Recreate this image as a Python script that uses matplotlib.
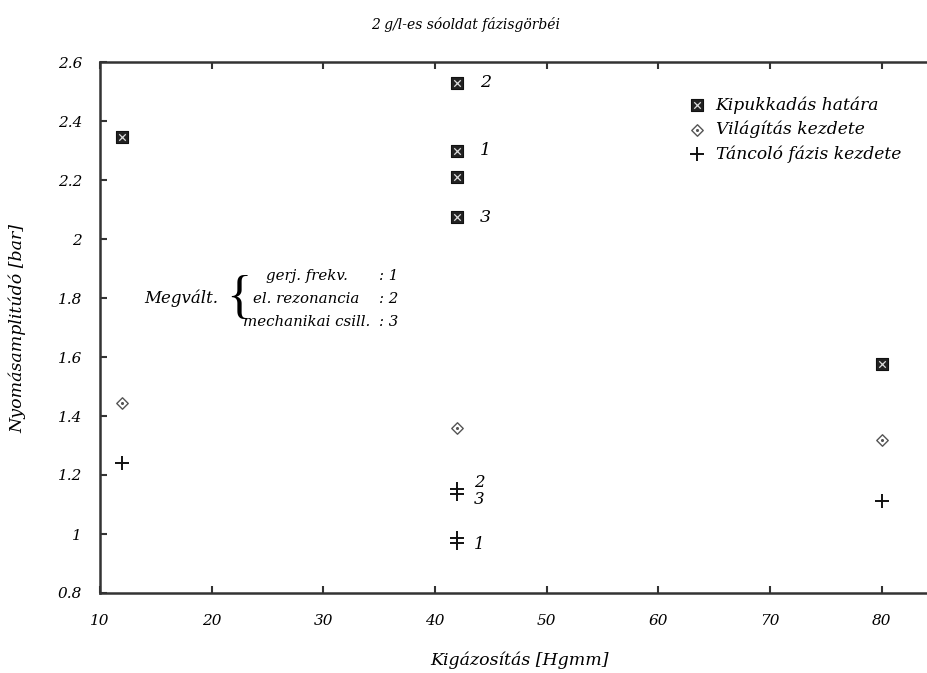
import numpy as np
import matplotlib.pyplot as plt
from matplotlib.legend_handler import HandlerTuple

plt.rcParams['font.family'] = ['DejaVu Serif']
plt.rcParams['font.style'] = 'italic'

# Kipukkadás határa
burst_x = [12, 42, 42, 42, 42, 80]
burst_y = [2.347, 2.53, 2.30, 2.211, 2.073, 1.576]
# Világítás kezdete
light_x = [12, 42, 80]
light_y = [1.443, 1.358, 1.319]
# Táncoló fázis kezdete
dance_x = [12, 42, 42, 42, 42, 80]
dance_y = [1.24, 1.152, 1.135, 0.985, 0.968, 1.112]

burst_tags = ['2', '1', '3']
burst_tag_y = [2.53, 2.30, 2.073]
dance_tags = ['2', '3', '1']
dance_tag_y = [1.175, 1.118, 0.963]

legend_labels = ['Kipukkadás határa', 'Világítás kezdete', 'Táncoló fázis kezdete']
notes = ['gerj. frekv.', 'el. rezonancia', 'mechanikai csill.']
note_nums = [': 1', ': 2', ': 3']
note_y = [1.875, 1.797, 1.719]

W, H = 928, 673
fig = plt.figure(figsize=(W / 100, H / 100), dpi=100)
# axes runs past the right edge of the picture, as in the original
ax = fig.add_axes([100 / W, 1 - 593 / H, 837.7 / W, 531 / H])

ax.set_xlim(10, 85)
ax.set_ylim(0.8, 2.6)
ax.set_xticks(np.arange(10, 81, 10))
ax.set_yticks(np.arange(0.8, 2.61, 0.2))
ax.set_yticklabels(['0.8', '1', '1.2', '1.4', '1.6', '1.8', '2', '2.2', '2.4', '2.6'])
ax.tick_params(direction='in', length=5, width=1.5, labelsize=11,
               top=True, color='#333333')
ax.tick_params(axis='x', pad=15)
ax.tick_params(axis='y', pad=13)
for s in ax.spines.values():
    s.set_linewidth(1.8)
    s.set_color('#333333')

sq = ax.scatter(burst_x, burst_y, marker='s', s=70, facecolor='#222222',
                edgecolor='#111111', linewidth=0.8, zorder=3)
sqx = ax.scatter(burst_x, burst_y, marker='x', s=22, color='#dddddd',
                 linewidth=0.9, zorder=4)
dm = ax.scatter(light_x, light_y, marker='D', s=34, facecolor='white',
                edgecolor='#555555', linewidth=1.0, zorder=3)
dmd = ax.scatter(light_x, light_y, marker='.', s=6, color='#555555', zorder=4)
pl = ax.scatter(dance_x, dance_y, marker='+', s=110, color='#111111',
                linewidth=1.4, zorder=3)

for t, yv in zip(burst_tags, burst_tag_y):
    ax.text(44.0, yv, t, fontsize=12.5, va='center', ha='left')
for t, yv in zip(dance_tags, dance_tag_y):
    ax.text(43.5, yv, t, fontsize=12, va='center', ha='left')

ax.text(17.3, 1.80, 'Megvált.', fontsize=12, ha='center', va='center')
ax.text(22.4, 1.795, '{', fontsize=38, ha='center', va='center',
        family='Liberation Serif', style='normal')
for t, n, yv in zip(notes, note_nums, note_y):
    ax.text(28.5, yv, t, fontsize=10.8, ha='center', va='center')
    ax.text(35.0, yv, n, fontsize=10.8, ha='left', va='center')

ax.legend([(sq, sqx), (dm, dmd), pl], legend_labels,
          handler_map={tuple: HandlerTuple(ndivide=1, pad=0)},
          loc='upper left', bbox_to_anchor=(690 / W, 1 - 96 / H),
          bbox_transform=fig.transFigure, frameon=False, fontsize=12.3,
          handlelength=0.8, handletextpad=0.7, labelspacing=0.42,
          borderaxespad=0, borderpad=0)

fig.text(466 / W, 1 - 25 / H, '2 g/l-es sóoldat fázisgörbéi', fontsize=10,
         ha='center', va='center')
fig.text(520 / W, 1 - 660 / H, 'Kigázosítás [Hgmm]', fontsize=12.5,
         ha='center', va='center')
fig.text(18 / W, 1 - 328 / H, 'Nyomásamplitúdó [bar]', fontsize=12.5,
         ha='center', va='center', rotation=90)

fig.savefig('out.png', dpi=100)
